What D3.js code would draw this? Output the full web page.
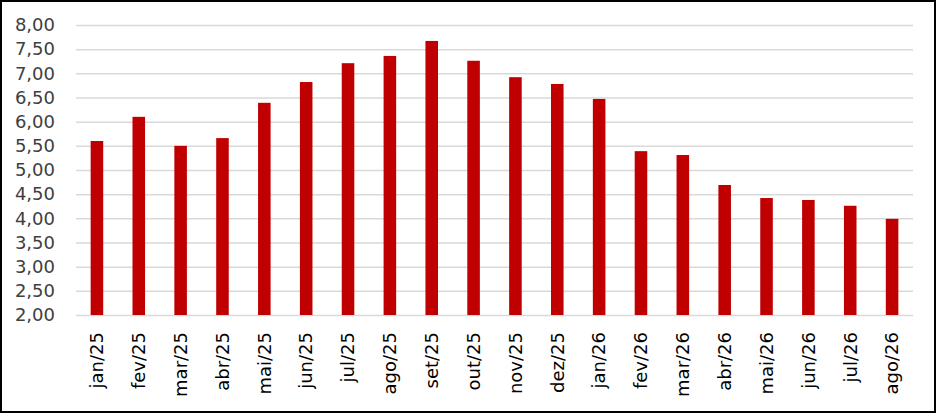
<!DOCTYPE html>
<html>
<head>
<meta charset="utf-8">
<script src="https://cdn.jsdelivr.net/npm/d3@7"></script>
<style>
  body { margin: 0; background: #fff; }
  svg { display: block; }
  svg text { font-family: "DejaVu Sans", sans-serif; }
</style>
</head>
<body>
<div id="chart"></div>
<script>
var months = ["jan/25", "fev/25", "mar/25", "abr/25", "mai/25", "jun/25", "jul/25", "ago/25", "set/25",
              "out/25", "nov/25", "dez/25", "jan/26", "fev/26", "mar/26", "abr/26", "mai/26", "jun/26",
              "jul/26", "ago/26"];
var values = [5.60, 6.10, 5.50, 5.66, 6.39, 6.82, 7.21, 7.36, 7.67,
              7.26, 6.92, 6.78, 6.47, 5.39, 5.31, 4.69, 4.42, 4.38,
              4.26, 3.99];
var yTicks = [2, 2.5, 3, 3.5, 4, 4.5, 5, 5.5, 6, 6.5, 7, 7.5, 8];

var width = 937,
    height = 414;

var margin = {top: 25, right: 24, bottom: 99, left: 76};

var svg = d3.select("#chart").append("svg")
    .attr("width", width)
    .attr("height", height);

// outer frame
svg.append("rect")
    .attr("x", 1).attr("y", 1)
    .attr("width", width - 3).attr("height", height - 3)
    .attr("fill", "#fff")
    .attr("stroke", "#000")
    .attr("stroke-width", 2);

var x = d3.scaleBand()
    .domain(months)
    .range([margin.left, width - margin.right])
    .paddingInner(0.7)
    .paddingOuter(0.35);

var y = d3.scaleLinear()
    .domain([2, 8])
    .range([height - margin.bottom, margin.top]);

var fmt = function(d) { return d3.format(".2f")(d).replace(".", ","); };

// gridlines + y labels
var yAxis = d3.axisLeft(y)
    .tickValues(yTicks)
    .tickSize(-(width - margin.left - margin.right))
    .tickPadding(21)
    .tickFormat(fmt);

var gy = svg.append("g")
    .attr("transform", "translate(" + margin.left + ",0)")
    .call(yAxis)
    .attr("font-family", null)
    .attr("font-size", 18);
gy.select(".domain").remove();
gy.selectAll(".tick line")
    .attr("stroke", "#d9d9d9")
    .attr("stroke-width", 1.5);
gy.selectAll(".tick text")
    .attr("fill", "#404040");

// bars
svg.append("g").selectAll("rect")
    .data(values)
  .enter().append("rect")
    .attr("x", function(d, i) { return x(months[i]); })
    .attr("width", x.bandwidth())
    .attr("y", function(d) { return y(d); })
    .attr("height", function(d) { return y(2) - y(d); })
    .attr("fill", "#c00000");

// x labels
var gx = svg.append("g")
    .attr("transform", "translate(0," + (height - margin.bottom) + ")")
    .call(d3.axisBottom(x).tickSize(0).tickPadding(0))
    .attr("font-family", null)
    .attr("font-size", 18);
gx.select(".domain").remove();
gx.selectAll(".tick text")
    .attr("fill", "#000")
    .attr("text-anchor", "end")
    .attr("dy", "0.35em")
    .attr("transform", "translate(0,17) rotate(-90)");
</script>
</body>
</html>
